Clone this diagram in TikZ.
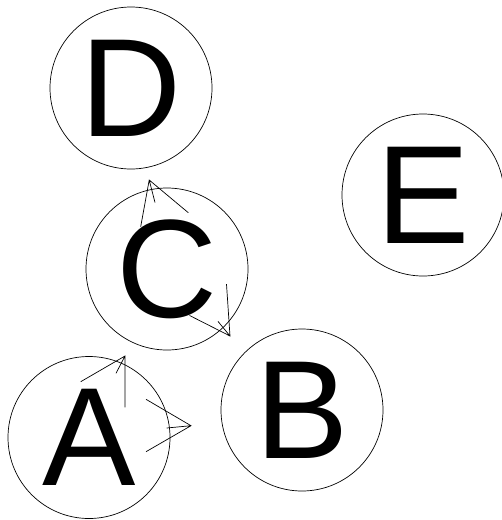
\documentclass[tikz,border=0pt]{standalone}
\usepackage{fontspec}
\setmainfont{Liberation Sans}
\begin{document}
\begin{tikzpicture}[x=1pt,y=-1pt,
  vertex/.style={draw,circle,minimum size=162pt,inner sep=0pt,line width=0.7pt,font=\fontsize{140}{140}\selectfont},
  edgeline/.style={line width=0.7pt}]
\useasboundingbox (0,0) rectangle (502,520);
\node[vertex] (D) at (131,88) {D};
\node[vertex] (E) at (423,195) {E};
\node[vertex] (C) at (167,269) {C};
\node[vertex] (A) at (89,437.5) {A};
\node[vertex] (B) at (302,410) {B};
% A -> C
\coordinate (ac1) at (125,356);
\coordinate (ac2) at (125,407.3);
\coordinate (ac3) at (80.7,381.7);
\coordinate (ac4) at (116,373.3);
\draw[edgeline] (ac2) -- (ac1) -- (ac3) (ac1) -- (ac4);
% A -> B
\coordinate (ab1) at (191,425.7);
\coordinate (ab2) at (146,399.3);
\coordinate (ab3) at (146,451.7);
\coordinate (ab4) at (166.7,428);
\draw[edgeline] (ab2) -- (ab1) -- (ab3) (ab1) -- (ab4);
% C -> D
\coordinate (cd1) at (149.2,180);
\coordinate (cd2) at (140.7,226.7);
\coordinate (cd3) at (155,202.5);
\coordinate (cd4) at (188.3,212.7);
\draw[edgeline] (cd2) -- (cd1) -- (cd4) (cd1) -- (cd3);
% C -> B
\coordinate (cb1) at (230,336);
\coordinate (cb2) at (226.5,284.2);
\coordinate (cb3) at (189.6,315.5);
\coordinate (cb4) at (218,321.4);
\draw[edgeline] (cb2) -- (cb1) -- (cb3) (cb1) -- (cb4);
\end{tikzpicture}
\end{document}
